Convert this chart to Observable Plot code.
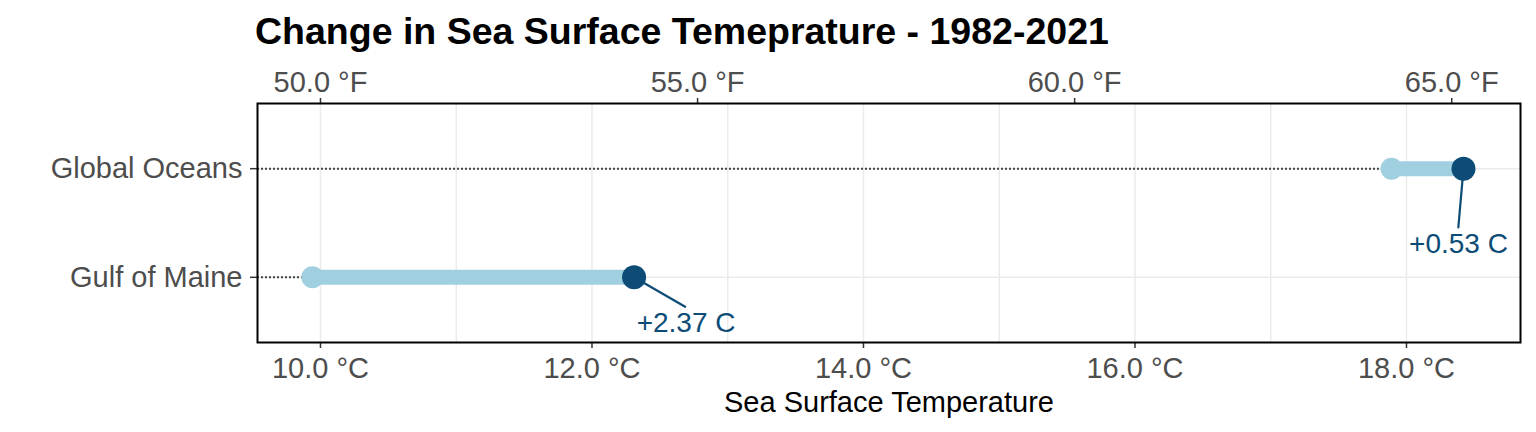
<!DOCTYPE html>
<html>
<head>
<meta charset="utf-8">
<script src="https://cdn.jsdelivr.net/npm/d3@7"></script>
<script src="https://cdn.jsdelivr.net/npm/@observablehq/plot@0.6"></script>
<style>
  html, body { margin: 0; padding: 0; background: #fff; }
  body { width: 1536px; height: 432px; overflow: hidden; font-family: "Liberation Sans", Arial, sans-serif; }
  #title { height: 60px; box-sizing: border-box; padding-left: 255px; padding-top: 13px; font-size: 37.5px; font-weight: bold; color: #000; line-height: 36px; white-space: nowrap; }
  #chart svg { display: block; }
</style>
</head>
<body>
<div id="title">Change in Sea Surface Temeprature - 1982-2021</div>
<div id="chart"></div>
<script>
// Data
const regions = ["Global Oceans", "Gulf of Maine"];
const startTemp = [17.89, 9.94];   // 1982 (°C)
const endTemp = [18.42, 12.31];    // 2021 (°C)
const changeLabels = ["+0.53 C", "+2.37 C"];
const celsiusTicks = [10, 12, 14, 16, 18];
const fahrenheitTicks = [50, 55, 60, 65];
const gridTicks = [10, 11, 12, 13, 14, 15, 16, 17, 18];

const xDomain = [9.536, 18.84];
const rows = regions.map((r, i) => ({
  region: r, start: startTemp[i], end: endTemp[i], label: changeLabels[i]
}));

const light = "#a0cfe0";
const dark = "#0c4c76";
const f2c = f => (f - 32) * 5 / 9;
const c2f = c => c * 9 / 5 + 32;

// label / leader placement per row (pixels, repel-style offsets)
const place = {
  "Global Oceans": {dx: -5, dy: 75, len: 59, rot: 185},
  "Gulf of Maine": {dx: 52, dy: 46, len: 59, rot: 120}
};

const plot = Plot.plot({
  width: 1536,
  height: 372,
  marginLeft: 257,
  marginRight: 16,
  marginTop: 43,
  marginBottom: 90,
  style: { fontFamily: "'Liberation Sans', Arial, sans-serif", fontSize: "29px", color: "#4d4d4d", background: "#fff" },
  x: { domain: xDomain, round: false },
  y: { type: "point", domain: regions, padding: 0.6, round: false },
  length: { type: "identity" },
  marks: [
    Plot.gridX(gridTicks, { stroke: "#ebebeb", strokeOpacity: 1, strokeWidth: 1.5 }),
    Plot.gridY(regions, { stroke: "#ebebeb", strokeOpacity: 1, strokeWidth: 1.5 }),
    Plot.axisX(celsiusTicks, { anchor: "bottom", tickFormat: d => d.toFixed(1) + " °C", tickSize: 6, tickPadding: 9, stroke: "#333", strokeWidth: 1.5, fill: "#4d4d4d", fontSize: 29, label: null }),
    Plot.axisX(fahrenheitTicks.map(f2c), { anchor: "top", tickFormat: d => c2f(d).toFixed(1) + " °F", tickSize: 6, tickPadding: 6, stroke: "#333", strokeWidth: 1.5, fill: "#4d4d4d", fontSize: 29, label: null }),
    Plot.axisY(regions, { anchor: "left", tickSize: 7, tickPadding: 8, stroke: "#333", strokeWidth: 1.5, fill: "#4d4d4d", fontSize: 29, label: null }),
    Plot.text(["Sea Surface Temperature"], { frameAnchor: "bottom", dy: 69, fill: "#000", fontSize: 29 }),
    Plot.ruleY(rows, { y: "region", x1: () => xDomain[0], x2: "start", stroke: "#444", strokeWidth: 2, strokeDasharray: "2,2" }),
    Plot.ruleY(rows, { y: "region", x1: "start", x2: "end", stroke: light, strokeWidth: 15 }),
    Plot.vector(rows, { x: "end", y: "region", anchor: "start", shape: "spike", r: 0.01, length: d => place[d.region].len, rotate: d => place[d.region].rot, fill: "none", stroke: dark, strokeWidth: 2.2, strokeLinejoin: "round" }),
    Plot.dot(rows, { x: "start", y: "region", r: 11, fill: light }),
    Plot.dot(rows, { x: "end", y: "region", r: 12, fill: dark }),
    Plot.text(rows.filter(d => d.region === "Global Oceans"), { x: "end", y: "region", text: "label", dx: place["Global Oceans"].dx, dy: place["Global Oceans"].dy, fill: dark, fontSize: 28 }),
    Plot.text(rows.filter(d => d.region === "Gulf of Maine"), { x: "end", y: "region", text: "label", dx: place["Gulf of Maine"].dx, dy: place["Gulf of Maine"].dy, fill: dark, fontSize: 28 }),
    Plot.frame({ stroke: "#000", strokeWidth: 2 })
  ]
});
document.getElementById("chart").appendChild(plot);
</script>
</body>
</html>
